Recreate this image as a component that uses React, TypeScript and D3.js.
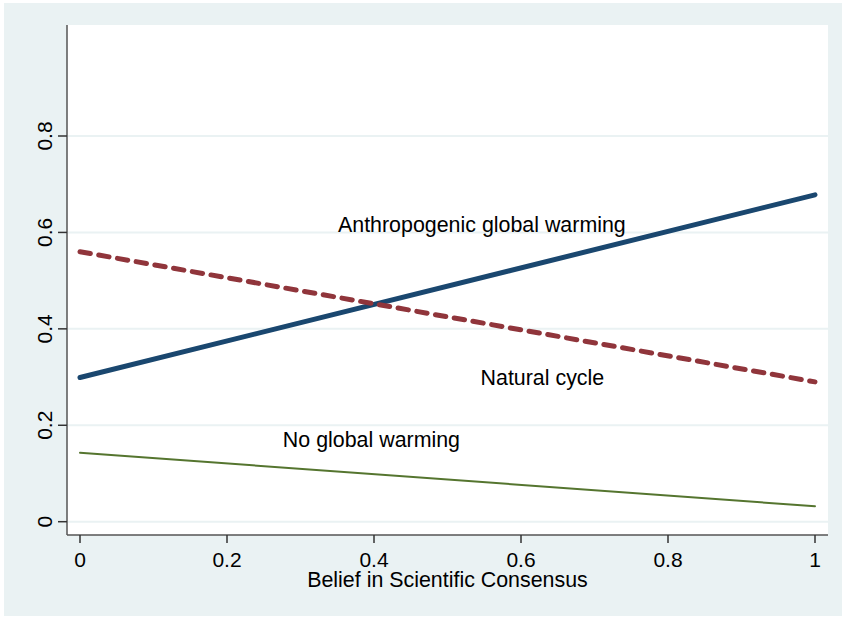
import React from "react";
import * as d3 from "d3";

// Predicted probabilities by belief in scientific consensus
const beliefPoints = [0, 1];
const anthropogenic = [0.299, 0.678];
const naturalCycle = [0.56, 0.29];
const noWarming = [0.143, 0.032];

const xTicks = [0, 0.2, 0.4, 0.6, 0.8, 1];
const yTicks = [0, 0.2, 0.4, 0.6, 0.8];

const seriesLabels = ["Anthropogenic global warming", "Natural cycle", "No global warming"];
const labelAnchors = [
  { x: 0.351, y: 0.6 },
  { x: 0.545, y: 0.283 },
  { x: 0.276, y: 0.154 },
];

const W = 842;
const H = 617;
const plot = { left: 67, right: 828, top: 25, bottom: 535 };

const FONT = "'Liberation Sans', Arial, Helvetica, sans-serif";

export default function App() {
  const x = d3.scaleLinear().domain([0, 1]).range([80, 815]);
  const y = d3.scaleLinear().domain([0, 0.8]).range([521.7, 136]);

  const line = d3
    .line<number>()
    .x((_, i) => x(beliefPoints[i]))
    .y((d) => y(d));

  const series = [
    { values: anthropogenic, color: "#1a476f", width: 5, dash: undefined as string | undefined },
    { values: naturalCycle, color: "#90353b", width: 5, dash: "10.5 8.5" },
    { values: noWarming, color: "#55752f", width: 2, dash: undefined },
  ];

  return (
    <svg
      width={W}
      height={H}
      style={{ position: "absolute", left: 0, top: 0, background: "#ffffff" }}
      fontFamily={FONT}
    >
      <rect x={4} y={3} width={W - 4} height={H - 4} fill="#eaf2f3" />
      <rect
        x={plot.left}
        y={plot.top}
        width={plot.right - plot.left}
        height={plot.bottom - plot.top}
        fill="#ffffff"
      />

      {/* grid lines */}
      {yTicks.map((t) => (
        <line
          key={"g" + t}
          x1={plot.left}
          x2={plot.right}
          y1={y(t)}
          y2={y(t)}
          stroke="#eaf2f3"
          strokeWidth={2}
        />
      ))}

      {/* series */}
      {series.map((s, i) => (
        <path
          key={i}
          d={line(s.values) || ""}
          fill="none"
          stroke={s.color}
          strokeWidth={s.width}
          strokeLinecap="round"
          strokeDasharray={s.dash}
        />
      ))}

      {/* series labels */}
      {seriesLabels.map((lab, i) => (
        <text
          key={lab}
          x={x(labelAnchors[i].x)}
          y={y(labelAnchors[i].y)}
          fontSize={21.4}
          fill="#000000"
        >
          {lab}
        </text>
      ))}

      {/* axes */}
      <line x1={plot.left} x2={plot.left} y1={plot.top} y2={plot.bottom} stroke="#555555" strokeWidth={1.5} />
      <line x1={plot.left} x2={plot.right} y1={plot.bottom} y2={plot.bottom} stroke="#555555" strokeWidth={1.5} />

      {yTicks.map((t) => (
        <g key={"y" + t}>
          <line x1={plot.left - 9} x2={plot.left} y1={y(t)} y2={y(t)} stroke="#333333" strokeWidth={1.5} />
          <text
            transform={`translate(52,${y(t)}) rotate(-90)`}
            textAnchor="middle"
            fontSize={21}
            fill="#000000"
          >
            {d3.format("~g")(t)}
          </text>
        </g>
      ))}

      {xTicks.map((t) => (
        <g key={"x" + t}>
          <line x1={x(t)} x2={x(t)} y1={plot.bottom} y2={plot.bottom + 8} stroke="#333333" strokeWidth={1.5} />
          <text x={x(t)} y={567} textAnchor="middle" fontSize={21} fill="#000000">
            {d3.format("~g")(t)}
          </text>
        </g>
      ))}

      <text x={(plot.left + plot.right) / 2} y={586.5} textAnchor="middle" fontSize={21.4} fill="#000000">
        Belief in Scientific Consensus
      </text>
    </svg>
  );
}
